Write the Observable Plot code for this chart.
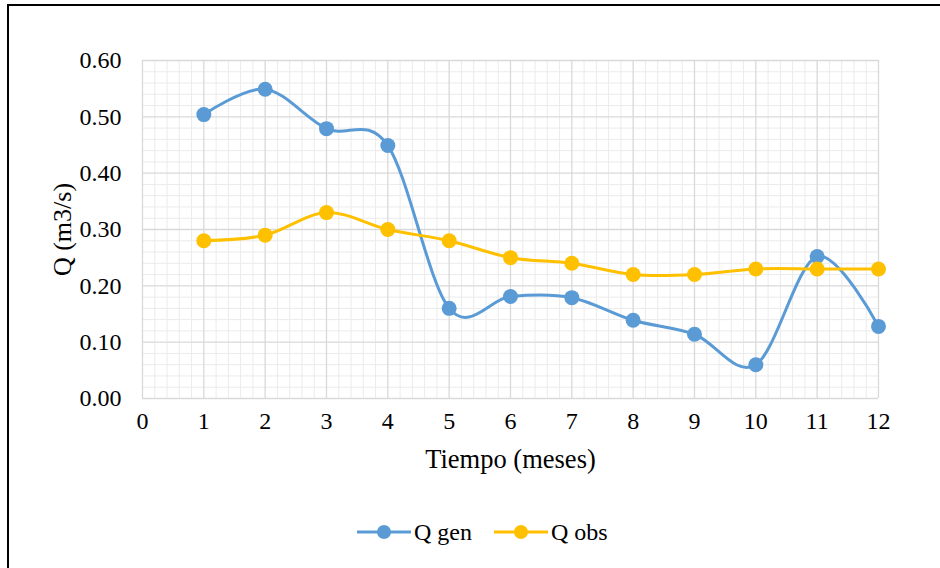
<!DOCTYPE html>
<html>
<head>
<meta charset="utf-8">
<script src="https://cdn.jsdelivr.net/npm/d3@7"></script>
<script src="https://cdn.jsdelivr.net/npm/@observablehq/plot@0.6"></script>
<style>
  html, body { margin: 0; padding: 0; background: #fff; }
  #wrap { position: relative; width: 940px; height: 568px; overflow: hidden; font-family: 'Liberation Serif', 'Times New Roman', serif; }
  #frame { position: absolute; left: 7px; top: 4px; width: 960px; height: 600px; border: 2px solid #000; box-sizing: border-box; }
  #chart { position: absolute; left: 0; top: 0; }
  #legend { position: absolute; left: 0; top: 515px; width: 940px; height: 34px; }
  .item { position: absolute; top: 0; display: flex; align-items: center; height: 34px; font-size: 24px; color: #000; }
  .item svg { margin-right: 3px; }
</style>
</head>
<body>
<div id="wrap">
  <div id="frame"></div>
  <div id="chart"></div>
  <div id="legend"></div>
</div>
<script>
const months = [1, 2, 3, 4, 5, 6, 7, 8, 9, 10, 11, 12];
const qGen = [0.504, 0.549, 0.479, 0.449, 0.160, 0.181, 0.179, 0.139, 0.114, 0.060, 0.252, 0.128];
const qObs = [0.28, 0.29, 0.33, 0.30, 0.28, 0.25, 0.24, 0.22, 0.22, 0.23, 0.23, 0.23];
const seriesNames = ["Q gen", "Q obs"];
const seriesColors = ["#5B9BD5", "#FFC000"];
const xTicks = [0, 1, 2, 3, 4, 5, 6, 7, 8, 9, 10, 11, 12];
const yTicks = [0, 0.1, 0.2, 0.3, 0.4, 0.5, 0.6];
const xLabel = "Tiempo (meses)";
const yLabel = "Q (m3/s)";

const data = [];
months.forEach((m, i) => {
  data.push({month: m, q: qGen[i], series: seriesNames[0]});
  data.push({month: m, q: qObs[i], series: seriesNames[1]});
});

const xMinor = d3.range(0, 12.0001, 0.2).filter(v => Math.abs(v - Math.round(v)) > 1e-6);
const yMinor = d3.range(0, 0.60001, 0.02).filter(v => Math.abs(v * 10 - Math.round(v * 10)) > 1e-6);

const font = "'Liberation Serif', 'Times New Roman', serif";

const chart = Plot.plot({
  width: 940,
  height: 488,
  marginLeft: 142,
  marginRight: 62,
  marginTop: 60,
  marginBottom: 90,
  style: {fontFamily: font, fontSize: "24px", color: "#000", background: "transparent"},
  x: {domain: [0, 12]},
  y: {domain: [0, 0.6]},
  color: {domain: seriesNames, range: seriesColors},
  marks: [
    Plot.ruleX(xMinor, {stroke: "#ebebeb", strokeWidth: 1}),
    Plot.ruleY(yMinor, {stroke: "#ebebeb", strokeWidth: 1}),
    Plot.ruleX(xTicks, {stroke: "#d9d9d9", strokeWidth: 1.3}),
    Plot.ruleY(yTicks, {stroke: "#d9d9d9", strokeWidth: 1.3}),
    Plot.axisX({ticks: xTicks, tickSize: 0, tickPadding: 13, label: null, fontSize: 24, fontFamily: font}),
    Plot.axisY({ticks: yTicks, tickSize: 0, tickPadding: 21, tickFormat: d3.format(".2f"), label: null, fontSize: 24, fontFamily: font}),
    Plot.line(data, {x: "month", y: "q", stroke: "series", z: "series", strokeWidth: 3, curve: "cardinal", tension: 0}),
    Plot.dot(data, {x: "month", y: "q", fill: "series", r: 7.5}),
    Plot.text([yLabel], {frameAnchor: "left", textAnchor: "middle", text: d => d, rotate: -90, dx: -80, fontSize: 26, fontFamily: font}),
    Plot.text([xLabel], {frameAnchor: "bottom", textAnchor: "middle", text: d => d, dy: 69, fontSize: 26.5, fontFamily: font})
  ]
});
document.getElementById("chart").appendChild(chart);

const legend = document.getElementById("legend");
const lefts = [357, 494];
seriesNames.forEach((name, i) => {
  const item = document.createElement("div");
  item.className = "item";
  item.style.left = lefts[i] + "px";
  item.innerHTML = `<svg width="54" height="20"><line x1="0" y1="10" x2="54" y2="10" stroke="${seriesColors[i]}" stroke-width="3"/><circle cx="27" cy="10" r="7" fill="${seriesColors[i]}"/></svg><span>${name}</span>`;
  legend.appendChild(item);
});
</script>
</body>
</html>
